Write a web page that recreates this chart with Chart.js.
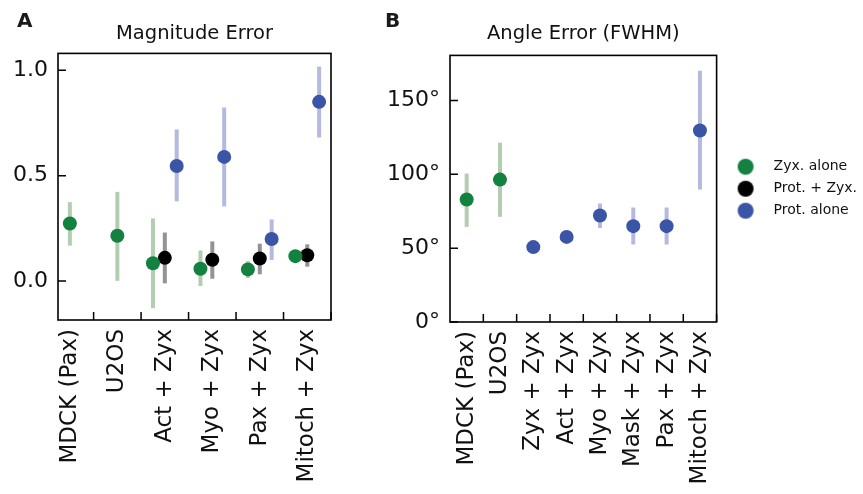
<!DOCTYPE html>
<html>
<head>
<meta charset="utf-8">
<script src="https://cdn.jsdelivr.net/npm/chart.js@4"></script>
<style>
  html, body { margin: 0; padding: 0; background: #fff; }
  body { width: 863px; height: 494px; position: relative; overflow: hidden; }
  .panel { position: absolute; top: 0; }
</style>
</head>
<body>
<div class="panel" style="left:0"><canvas id="chartA" width="350" height="494"></canvas></div>
<div class="panel" style="left:207px"><canvas id="chartB" width="663" height="494"></canvas></div>
<script>
// Panel A: magnitude error
const catsA = ["MDCK (Pax)", "U2OS", "Act + Zyx", "Myo + Zyx", "Pax + Zyx", "Mitoch + Zyx"];
const zyxA = [0.273, 0.215, 0.084, 0.058, 0.055, 0.118];
const zyxLoA = [0.168, 0.001, -0.129, -0.024, 0.014, 0.103];
const zyxHiA = [0.374, 0.423, 0.297, 0.145, 0.095, 0.133];
const bothA = [null, null, 0.110, 0.101, 0.107, 0.122];
const bothLoA = [null, null, -0.011, 0.011, 0.032, 0.068];
const bothHiA = [null, null, 0.230, 0.188, 0.177, 0.174];
const protA = [null, null, 0.546, 0.589, 0.199, 0.850];
const protLoA = [null, null, 0.378, 0.354, 0.100, 0.681];
const protHiA = [null, null, 0.719, 0.823, 0.292, 1.017];
const yTicksA = [0, 0.5, 1.0];

// Panel B: angle error (FWHM), degrees
const catsB = ["MDCK (Pax)", "U2OS", "Zyx + Zyx", "Act + Zyx", "Myo + Zyx", "Mask + Zyx", "Pax + Zyx", "Mitoch + Zyx"];
const zyxB = [82.9, 96.4, null, null, null, null, null, null];
const zyxLoB = [64.4, 71.2, null, null, null, null, null, null];
const zyxHiB = [100.5, 121.4, null, null, null, null, null, null];
const protB = [null, null, 50.7, 57.6, 72.1, 64.9, 64.9, 129.7];
const protLoB = [null, null, 49.2, 56.2, 63.7, 52.5, 52.5, 89.7];
const protHiB = [null, null, 52.2, 59.0, 80.2, 77.5, 77.5, 170.1];
const yTicksB = [0, 50, 100, 150];

const seriesNames = ["Zyx. alone", "Prot. + Zyx.", "Prot. alone"];

const GREEN = "#13813f", BLACK = "#000000", BLUE = "#3b55a6";
const GREEN_BAR = "#b3cdb0", BLACK_BAR = "#939393", BLUE_BAR = "#b4b9e0";
const FONT = "'DejaVu Sans', sans-serif";
const dodge = 0.25;

Chart.defaults.font.family = FONT;
Chart.defaults.color = "#111";

// vertical error bars, drawn under the points
const errorBars = {
  id: "errorBars",
  beforeDatasetsDraw(chart) {
    const ctx = chart.ctx, y = chart.scales.y;
    ctx.save();
    ctx.lineWidth = 4;
    chart.data.datasets.forEach((ds, i) => {
      if (!ds.errLo) return;
      const meta = chart.getDatasetMeta(i);
      ctx.strokeStyle = ds.errColor;
      ds.errLo.forEach((lo, j) => {
        if (lo == null || ds.errHi[j] == null) return;
        const px = meta.data[j].x;
        ctx.beginPath();
        ctx.moveTo(px, y.getPixelForValue(lo));
        ctx.lineTo(px, y.getPixelForValue(ds.errHi[j]));
        ctx.stroke();
      });
    });
    ctx.restore();
  }
};

// box frame, inward ticks and panel letter
const frame = {
  id: "frame",
  afterDatasetsDraw(chart, args, opts) {
    const { ctx, chartArea: a, scales: { x, y } } = chart;
    ctx.save();
    ctx.strokeStyle = "#000";
    ctx.lineWidth = 1.6;
    ctx.strokeRect(a.left, a.top, a.right - a.left, a.bottom - a.top);
    ctx.lineWidth = 1.5;
    ctx.beginPath();
    y.ticks.forEach(t => {
      const py = y.getPixelForValue(t.value);
      ctx.moveTo(a.left, py);
      ctx.lineTo(a.left + 8, py);
    });
    opts.xTicks.forEach(v => {
      const px = x.getPixelForValue(v);
      ctx.moveTo(px, a.bottom);
      ctx.lineTo(px, a.bottom - 8);
    });
    ctx.stroke();
    ctx.fillStyle = "#1a1a1a";
    ctx.font = "bold 20px " + FONT;
    ctx.textBaseline = "top";
    ctx.fillText(opts.letter, opts.lx, opts.ly);
    ctx.restore();
  }
};

function points(vals, offsets) {
  return vals.map((v, i) => ({ x: i + offsets(i), y: v }));
}

function series(label, color, barColor, data, lo, hi) {
  return {
    label, data, errLo: lo, errHi: hi, errColor: barColor,
    backgroundColor: color, borderColor: color, borderWidth: 0,
    pointRadius: 7, pointHoverRadius: 7, showLine: false
  };
}

function dot(color) {
  const c = document.createElement("canvas");
  c.width = 18; c.height = 18;
  const g = c.getContext("2d");
  g.fillStyle = color;
  g.beginPath(); g.arc(9, 9, 8, 0, Math.PI * 2); g.fill();
  return c;
}

function options(p) {
  return {
    responsive: false,
    animation: false,
    events: [],
    layout: { padding: { left: 0, right: p.padRight, top: 0, bottom: 0 } },
    plugins: {
      tooltip: { enabled: false },
      title: {
        display: true, text: p.title, fullSize: false, color: "#111",
        font: { size: 19.5, weight: "normal", family: FONT },
        padding: { top: 22, bottom: p.titleGap }
      },
      legend: {
        display: p.legend, position: "right", fullSize: false,
        labels: {
          usePointStyle: true, pointStyleWidth: 42, boxHeight: 14,
          padding: 8, color: "#111", font: { size: 14, family: FONT },
          generateLabels(chart) {
            const items = Chart.defaults.plugins.legend.labels.generateLabels(chart);
            items.forEach((it, i) => { it.pointStyle = dot(chart.data.datasets[i].backgroundColor); });
            return items;
          }
        }
      },
      frame: { xTicks: p.cats.map((c, i) => i + 0.5), letter: p.letter, lx: p.lx, ly: 12 }
    },
    scales: {
      x: {
        type: "linear", min: p.xMin, max: p.cats.length - 0.5,
        grid: { display: false, drawTicks: false }, border: { display: false },
        afterBuildTicks: s => { s.ticks = p.cats.map((c, i) => ({ value: i })); },
        afterFit: s => { s.height = p.xHeight; },
        ticks: {
          autoSkip: false, minRotation: 90, maxRotation: 90, padding: 9,
          color: "#111", font: { size: 23 },
          callback: v => p.cats[v]
        }
      },
      y: {
        min: p.yMin, max: p.yMax,
        grid: { display: false, drawTicks: false }, border: { display: false },
        afterBuildTicks: s => { s.ticks = p.yTicks.map(v => ({ value: v })); },
        afterFit: s => { s.width = p.yWidth; },
        ticks: { padding: 10, color: "#111", font: { size: 22 }, callback: p.fmt }
      }
    }
  };
}

const greenOffsetA = i => (protA[i] != null ? -dodge : 0);
const protOffsetA = () => dodge;

new Chart(document.getElementById("chartA"), {
  type: "scatter",
  data: {
    datasets: [
      series(seriesNames[0], GREEN, GREEN_BAR, points(zyxA, greenOffsetA), zyxLoA, zyxHiA),
      series(seriesNames[1], BLACK, BLACK_BAR, points(bothA, () => 0), bothLoA, bothHiA),
      series(seriesNames[2], BLUE, BLUE_BAR, points(protA, protOffsetA), protLoA, protHiA)
    ]
  },
  options: options({
    cats: catsA, xMin: -0.25, yMin: -0.185, yMax: 1.08, yTicks: yTicksA,
    fmt: v => v.toFixed(1), yWidth: 58, xHeight: 174, title: "Magnitude Error",
    titleGap: 8, letter: "A", lx: 17, legend: false, padRight: 19
  }),
  plugins: [errorBars, frame]
});

new Chart(document.getElementById("chartB"), {
  type: "scatter",
  data: {
    datasets: [
      series(seriesNames[0], GREEN, GREEN_BAR, points(zyxB, () => 0), zyxLoB, zyxHiB),
      series(seriesNames[1], BLACK, BLACK_BAR, [], null, null),
      series(seriesNames[2], BLUE, BLUE_BAR, points(protB, () => 0), protLoB, protHiB)
    ]
  },
  options: options({
    cats: catsB, xMin: -0.5, yMin: 0, yMax: 180.5, yTicks: yTicksB,
    fmt: v => v + "°", yWidth: 243, xHeight: 172, title: "Angle Error (FWHM)",
    titleGap: 10, letter: "B", lx: 178, legend: true, padRight: 3
  }),
  plugins: [errorBars, frame]
});
</script>
</body>
</html>
